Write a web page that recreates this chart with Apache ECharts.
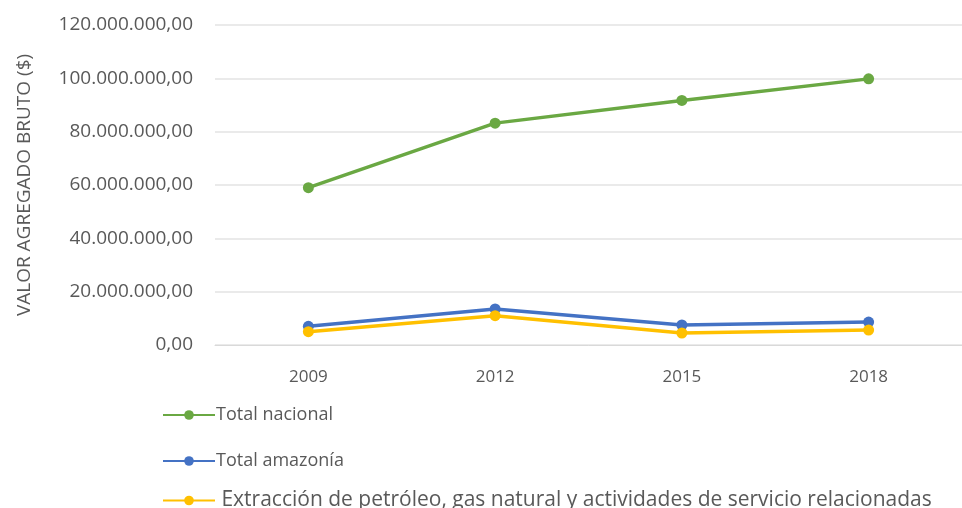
<!DOCTYPE html>
<html>
<head>
<meta charset="utf-8">
<script src="https://cdn.jsdelivr.net/npm/echarts@6/dist/echarts.min.js"></script>
<style>
  html, body { margin: 0; padding: 0; background: #fff; }
  #chart { width: 962px; height: 508px; }
</style>
</head>
<body>
<div id="chart"></div>
<script>
// Valor agregado bruto por año (dólares)
const years = ['2009', '2012', '2015', '2018'];
const totalNacional = [59000000, 83200000, 91700000, 99800000];
const totalAmazonia = [7000000, 13500000, 7500000, 8600000];
const extraccionPetroleo = [5000000, 11000000, 4500000, 5600000];
const seriesNames = [
  'Total nacional',
  'Total amazonía',
  ' Extracción de petróleo, gas natural y actividades de servicio relacionadas'
];
const yTicks = { min: 0, max: 120000000, interval: 20000000 };

// 120000000 -> "120.000.000,00"
function formatEs(v) {
  const intPart = Math.round(v).toString().replace(/\B(?=(\d{3})+(?!\d))/g, '.');
  return intPart + ',00';
}

const chart = echarts.init(document.getElementById('chart'), null, { renderer: 'canvas' });
const labelColor = '#595959';
const fontFamily = '"Open Sans", "Liberation Sans", sans-serif';

function lineSeries(name, data, color) {
  return {
    name: name,
    type: 'line',
    data: data,
    symbol: 'circle',
    symbolSize: 11,
    lineStyle: { color: color, width: 3.5 },
    itemStyle: { color: color },
    emphasis: { disabled: true }
  };
}

// one legend block per entry, stacked vertically under the axis
function legendEntry(name, top, fontSize) {
  return {
    orient: 'vertical',
    left: 157,
    top: top,
    itemWidth: 52,
    itemHeight: 12,
    textStyle: { color: labelColor, fontSize: fontSize, fontFamily: fontFamily, padding: [0, 0, 0, -4] },
    data: [name]
  };
}

chart.setOption({
  animation: false,
  textStyle: { fontFamily: fontFamily },
  grid: { left: 215, width: 756, top: 25, height: 320, containLabel: false },
  xAxis: {
    type: 'category',
    data: years,
    boundaryGap: true,
    axisLine: { show: true, lineStyle: { color: '#d9d9d9', width: 1 } },
    axisTick: { show: false },
    axisLabel: { color: labelColor, fontSize: 17, margin: 24, fontFamily: fontFamily }
  },
  yAxis: {
    type: 'value',
    min: yTicks.min,
    max: yTicks.max,
    interval: yTicks.interval,
    name: 'VALOR AGREGADO BRUTO ($)',
    nameLocation: 'middle',
    nameRotate: 90,
    nameGap: 181,
    nameTextStyle: { color: labelColor, fontSize: 19, fontFamily: fontFamily },
    axisLine: { show: false },
    axisTick: { show: false },
    splitLine: { lineStyle: { color: '#e3e3e3', width: 1.5 } },
    axisLabel: {
      color: labelColor,
      fontSize: 19,
      margin: 22,
      fontFamily: fontFamily,
      formatter: formatEs
    }
  },
  legend: [
    legendEntry(seriesNames[0], 401, 18),
    legendEntry(seriesNames[1], 447, 18),
    legendEntry(seriesNames[2], 485, 21)
  ],
  series: [
    lineSeries(seriesNames[0], totalNacional, '#6aa843'),
    lineSeries(seriesNames[1], totalAmazonia, '#4472c4'),
    lineSeries(seriesNames[2], extraccionPetroleo, '#ffc000')
  ]
});
</script>
</body>
</html>
